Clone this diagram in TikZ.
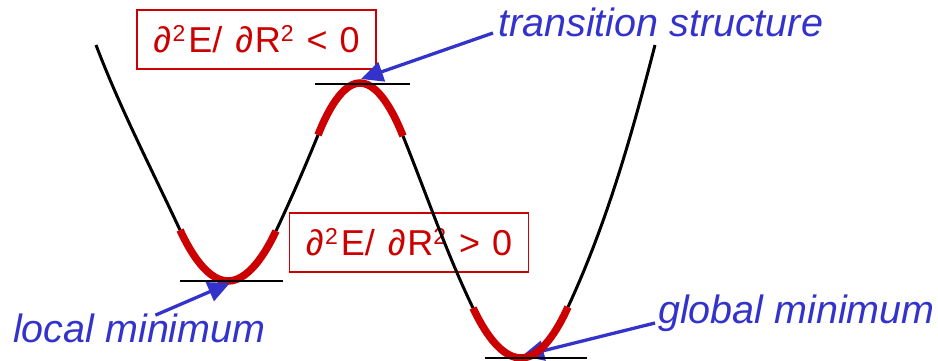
\documentclass[tikz,border=0pt]{standalone}
\usepackage{fontspec}
\setmainfont{Liberation Sans}
\usepackage{xcolor}
\usetikzlibrary{arrows.meta}
\definecolor{wellred}{RGB}{204,0,0}
\definecolor{labelblue}{RGB}{51,51,204}
\newcommand\sqr{\raisebox{11pt}{\fontsize{23}{23}\selectfont 2}}
\newcommand\pd{{\itshape ∂}\kern1.5pt}

\begin{document}
\begin{tikzpicture}[x=1pt,y=-1pt,
    critbox/.style={draw=wellred,line width=1.8pt,text=wellred,minimum width=239pt,minimum height=59pt,inner sep=0pt,font=\fontsize{36}{40}\selectfont},
    lab/.style={text=labelblue,inner sep=0pt,font=\fontsize{39.5}{44}\selectfont\itshape},
    ptr/.style={draw=labelblue,line width=3.3pt,-{Triangle[length=22pt,width=20pt]}},
    pes/.style={line width=3pt},
    well/.style={wellred,line width=7.5pt},
    level/.style={line width=1.7pt}]
      \useasboundingbox (0,0) rectangle (938,361);
      \node[critbox] (neg) at (256.5,39.5) {\pd\sqr\kern3pt E/\ \kern3pt\pd R\sqr\kern3pt\ <\ \kern2pt0};
      \node[critbox] (pos) at (409,242.5) {\pd\sqr\kern3pt E/\ \kern3pt\pd R\sqr\kern3pt\ >\ \kern2pt0};
      \coordinate (tstip) at (361,79);
      \coordinate (lmtip) at (230,283);
      \coordinate (gmtip) at (522,356);
      \node[lab,anchor=base west] (tslab) at (498,37) {transition structure};
      \node[lab,anchor=base west] (lmlab) at (13,342) {local minimum};
      \node[lab,anchor=base west] (gmlab) at (658,323) {global minimum};
      \draw[ptr] ([xshift=-3pt]gmlab.base west) -- (gmtip);
      \draw[pes] (96,45) .. controls (120,108) and (151,168) .. (180,230);
      \draw[pes] (276,231) .. controls (291,199) and (305,167) .. (318,135);
      \draw[pes] (403,136) .. controls (426,193) and (446,252) .. (473,308);
      \draw[pes] (568,307) .. controls (607,223) and (632,134) .. (655,45);
      \draw[well] (180,230) parabola bend (228,281) (276,231);
      \draw[well] (318,135) parabola bend (360,83) (403,136);
      \draw[well] (473,308) parabola bend (521,358) (568,307);
      \draw[level] (180,281) -- (283,281);
      \draw[level] (315,84) -- (410,84);
      \draw[level] (485,358) -- (587,358);
      \draw[ptr] ([xshift=-5pt,yshift=4pt]tslab.base west) -- (tstip);
      \draw[ptr] ([xshift=16pt,yshift=-2pt]lmlab.north) -- (lmtip);
    \end{tikzpicture}
\end{document}
